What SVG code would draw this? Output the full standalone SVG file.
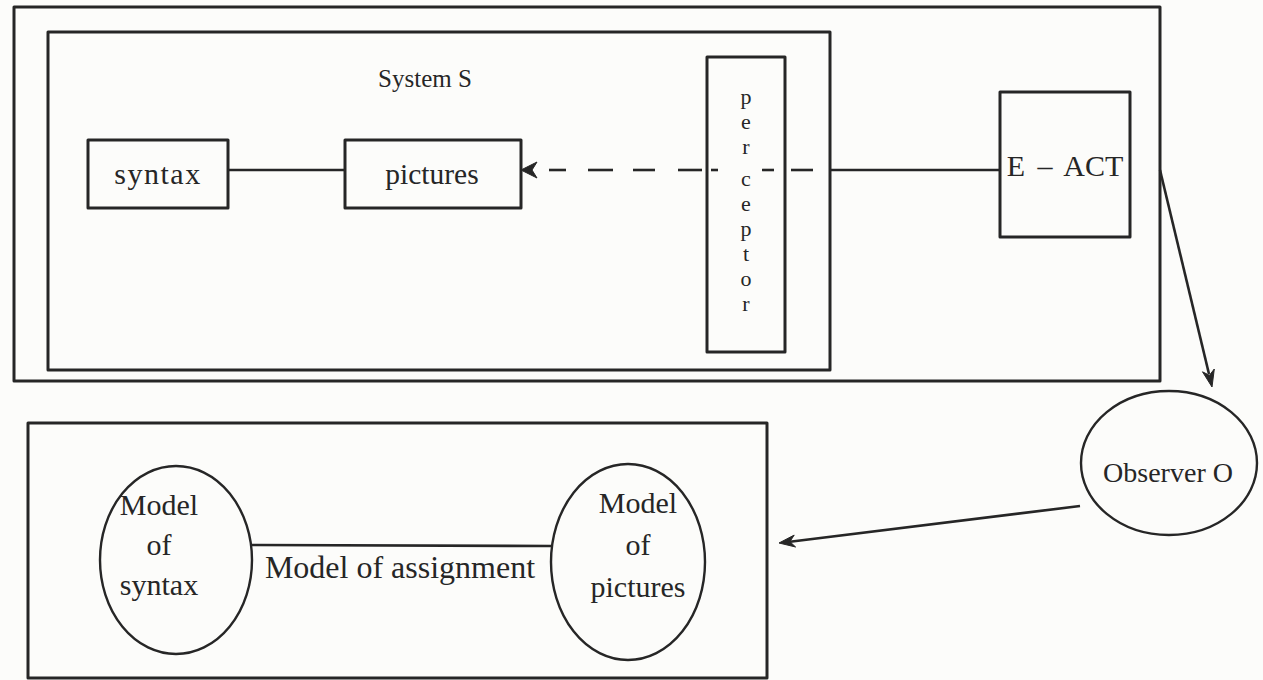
<svg xmlns="http://www.w3.org/2000/svg" width="1263" height="680" viewBox="0 0 1263 680">
  <style>
    .box { fill: none; stroke: #262626; stroke-width: 3; stroke-linejoin: round; }
    .thin { fill: none; stroke: #262626; stroke-width: 2.4; }
    .ln { fill: none; stroke: #262626; stroke-width: 2.6; stroke-linecap: butt; }
    .head { fill: #262626; stroke: #262626; stroke-width: 1; stroke-linejoin: round; }
    text { font-family: "Liberation Serif", "Times New Roman", serif; fill: #262626; text-anchor: middle; }
  </style>

  <rect x="0" y="0" width="1263" height="680" fill="#fcfcfa"/>

  <!-- frame around the system and the environment act -->
  <g id="outer-frame">
    <rect class="box" x="14" y="7" width="1146" height="374"/>
  </g>

  <!-- System S -->
  <g id="system-s">
    <rect class="box" x="48" y="32" width="782" height="338"/>
    <text x="425" y="87" font-size="25">System S</text>
  </g>

  <g id="syntax">
    <rect class="box" x="88" y="140" width="140" height="68"/>
    <text x="158" y="184" font-size="30" letter-spacing="1.5">syntax</text>
  </g>

  <g id="pictures">
    <rect class="box" x="345" y="140" width="176" height="68"/>
    <text x="432" y="184" font-size="29.5">pictures</text>
  </g>

  <g id="perceptor">
    <rect class="box" x="707" y="57" width="78" height="295"/>
    <g font-size="22">
      <text x="746" y="104">p</text>
      <text x="746" y="129">e</text>
      <text x="746" y="154">r</text>
      <text x="746" y="186">c</text>
      <text x="746" y="211">e</text>
      <text x="746" y="236">p</text>
      <text x="746" y="261">t</text>
      <text x="746" y="286">o</text>
      <text x="746" y="311">r</text>
    </g>
  </g>

  <g id="e-act">
    <rect class="box" x="1000" y="92" width="130" height="145"/>
    <text x="1065" y="176" font-size="30" word-spacing="5">E – ACT</text>
  </g>

  <g id="observer">
    <ellipse class="thin" cx="1169" cy="463" rx="88" ry="72"/>
    <text x="1168" y="482" font-size="28">Observer O</text>
  </g>

  <!-- models frame -->
  <g id="models-frame">
    <rect class="box" x="28" y="423" width="739" height="255"/>
  </g>

  <g id="model-of-syntax">
    <ellipse class="thin" cx="176" cy="560" rx="76" ry="94"/>
    <text x="159" y="515" font-size="30">Model</text>
    <text x="159" y="555" font-size="30">of</text>
    <text x="159" y="595" font-size="30">syntax</text>
  </g>

  <g id="model-of-pictures">
    <ellipse class="thin" cx="628" cy="562" rx="77" ry="98"/>
    <text x="638" y="513" font-size="30">Model</text>
    <text x="638" y="555" font-size="30">of</text>
    <text x="638" y="597" font-size="30">pictures</text>
  </g>

  <!-- connectors -->
  <g id="connectors">
    <!-- syntax to pictures -->
    <line class="ln" x1="228" y1="170" x2="345" y2="170"/>

    <!-- dashed signal through the perceptor into pictures -->
    <g class="ln">
      <line x1="549" y1="170" x2="566" y2="170"/>
      <line x1="588" y1="170" x2="613" y2="170"/>
      <line x1="633" y1="170" x2="655" y2="170"/>
      <line x1="678" y1="170" x2="702" y2="170"/>
      <line x1="711" y1="170" x2="718" y2="170"/>
      <line x1="762" y1="170" x2="774" y2="170"/>
      <line x1="791" y1="170" x2="813" y2="170"/>
    </g>
    <path class="head" d="M521,170 L537,162 L532,170 L537,178 Z"/>

    <!-- boundary to E-ACT -->
    <line class="ln" x1="830" y1="170" x2="1000" y2="170"/>

    <!-- E-ACT to observer -->
    <line class="ln" x1="1160" y1="170" x2="1209" y2="374"/>
    <path class="head" d="M1212,387 L1214.3,369 L1209.4,375.3 L1202.5,371.8 Z"/>

    <!-- observer to models frame -->
    <line class="ln" x1="1080" y1="506" x2="790" y2="541.7"/>
    <path class="head" d="M779,543 L795.6,547 L789.9,541.7 L794.2,535.1 Z"/>

    <!-- model of assignment -->
    <line class="ln" x1="252" y1="545" x2="551" y2="546"/>
    <text x="400" y="578" font-size="32">Model of assignment</text>
  </g>
</svg>
